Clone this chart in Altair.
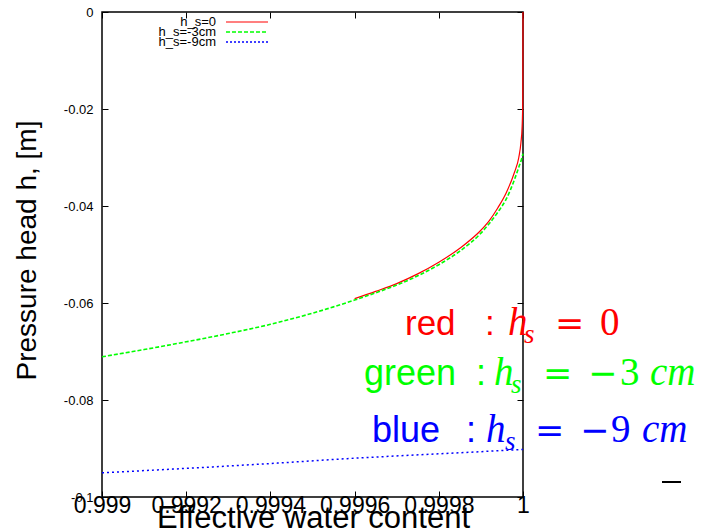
import altair as alt
import pandas as pd

# ---------------- data ----------------
x_ticks = [0.999, 0.9992, 0.9994, 0.9996, 0.9998, 1.0]
y_ticks = [0, -0.02, -0.04, -0.06, -0.08, -0.1]

series_names = ["h_s=0", "h_s=-3cm", "h_s=-9cm"]

red_x = [0.9996, 0.99965, 0.9997, 0.99975, 0.9998, 0.99985, 0.9999, 0.99992,
         0.99994, 0.99996, 0.99998, 0.99999, 0.999995, 0.999998, 0.9999995, 1.0]
red_y = [-0.0591, -0.0576, -0.0560, -0.0540, -0.0516, -0.0487, -0.0450, -0.0430,
         -0.0404, -0.0373, -0.0330, -0.0300, -0.0270, -0.0235, -0.0180, 0.0]

green_x = [0.999, 0.9991, 0.9992, 0.9993, 0.9994, 0.9995, 0.99955, 0.9996,
           0.99965, 0.9997, 0.99975, 0.9998, 0.99985, 0.9999, 0.99992, 0.99994,
           0.99996, 0.99998, 0.99999, 0.999997, 1.0]
green_y = [-0.0711, -0.0696, -0.0680, -0.0663, -0.0644, -0.0621, -0.0608, -0.0594,
           -0.0579, -0.0563, -0.0544, -0.0521, -0.0493, -0.0456, -0.0436, -0.0413,
           -0.0386, -0.0345, -0.0320, -0.0302, -0.0292]

blue_x = [0.999, 0.9992, 0.9994, 0.9996, 0.9998, 1.0]
blue_y = [-0.0950, -0.0941, -0.0931, -0.0920, -0.0911, -0.0902]

# ---------------- layout ----------------
W, H = 421, 485
PL, PT = 102, 12
RED, GREEN, BLUE = "#ff0000", "#00ff00", "#0000ff"
SANS, SERIF, DSERIF = "Liberation Sans", "Liberation Serif", "DejaVu Serif"

xscale = alt.Scale(domain=[0.999, 1.0], nice=False, zero=False)
yscale = alt.Scale(domain=[-0.1, 0.0], nice=False, zero=False)

tick_common = dict(offset=-6, tickSize=6, domain=False, grid=False,
                   tickColor="#000", tickWidth=1)

x_bottom = alt.Axis(orient="bottom", values=x_ticks, labelExpr="toString(datum.value)",
                    labelFont=SANS, labelFontSize=23, labelColor="#000", labelPadding=15,
                    labelBaseline="alphabetic", labelOverlap=False, labelFlush=False,
                    labelBound=False, titleFont=SANS, titleFontSize=31,
                    titleFontWeight="normal", titleColor="#000", titleX=211, titleY=36,
                    titleAlign="center", titleBaseline="alphabetic", **tick_common)
y_left = alt.Axis(orient="left", values=y_ticks, labelExpr="toString(datum.value)",
                  labelFont=SANS, labelFontSize=13, labelColor="#000", labelPadding=9,
                  labelBaseline="middle", labelOverlap=False, labelFlush=False,
                  labelBound=False, titleFont=SANS, titleFontSize=28,
                  titleFontWeight="normal", titleColor="#000", titleAngle=270,
                  titleX=-73, titleY=238, titleAlign="center",
                  titleBaseline="alphabetic", **tick_common)
x_top = alt.Axis(orient="top", values=x_ticks, labels=False, **tick_common)
y_right = alt.Axis(orient="right", values=y_ticks, labels=False, **tick_common)


def sdf(xs, ys):
    return pd.DataFrame({"theta": xs, "h": ys})


red = alt.Chart(sdf(red_x, red_y)).mark_line(
    color=RED, strokeWidth=1.2, interpolate="monotone").encode(
    x=alt.X("theta:Q", scale=xscale, axis=x_bottom, title="Effective water content"),
    y=alt.Y("h:Q", scale=yscale, axis=y_left, title="Pressure head h, [m]"),
)
green = alt.Chart(sdf(green_x, green_y)).mark_line(
    color=GREEN, strokeWidth=1.6, strokeDash=[4, 2], interpolate="monotone").encode(
    x=alt.X("theta:Q", scale=xscale, axis=x_top, title=None),
    y=alt.Y("h:Q", scale=yscale, axis=y_right, title=None),
)
blue = alt.Chart(sdf(blue_x, blue_y)).mark_line(
    color=BLUE, strokeWidth=1.5, strokeDash=[2, 3], interpolate="monotone").encode(
    x=alt.X("theta:Q", scale=xscale, axis=None),
    y=alt.Y("h:Q", scale=yscale, axis=None),
)

one = alt.Data(values=[{}])


def txt(text, ax, ay, font, size, color, style="normal", align="left", baseline="alphabetic"):
    return alt.Chart(one).mark_text(
        font=font, fontSize=size, fontStyle=style, color=color,
        align=align, baseline=baseline).encode(
        x=alt.value(ax - PL), y=alt.value(ay - PT), text=alt.value(text))


def rule(x1, x2, y, color, width, dash):
    return alt.Chart(one).mark_rule(color=color, strokeWidth=width, strokeDash=dash).encode(
        x=alt.value(x1 - PL), x2=alt.value(x2 - PL), y=alt.value(y - PT))


# legend (gnuplot style: label left, sample right)
legend_layers = []
for i, (name, col, dash, sw) in enumerate(zip(series_names, [RED, GREEN, BLUE],
                                              [[1, 0], [4, 2], [2, 2]], [1.2, 1.6, 1.5])):
    yy = 22 + 10 * i
    legend_layers.append(txt(name, 216, yy, SANS, 13, "#000", align="right", baseline="middle"))
    legend_layers.append(rule(226, 268, yy, col, sw, dash))

# annotations
ann = [
    ("red", 405, 335, SANS, 35, RED, "normal"),
    (":", 485, 335, SANS, 35, RED, "normal"),
    ("h", 508, 335, SERIF, 39, RED, "italic"),
    ("s", 524, 343, SERIF, 27, RED, "italic"),
    ("=", 555, 335, DSERIF, 35, RED, "normal"),
    ("0", 600, 335, SERIF, 39, RED, "normal"),
    ("green", 364, 385, SANS, 36, GREEN, "normal"),
    (":", 476, 385, SANS, 36, GREEN, "normal"),
    ("h", 494, 385, SERIF, 39, GREEN, "italic"),
    ("s", 511, 393, SERIF, 27, GREEN, "italic"),
    ("=", 543, 385, DSERIF, 35, GREEN, "normal"),
    ("\u2212", 588, 385, DSERIF, 35, GREEN, "normal"),
    ("3", 620, 385, SERIF, 39, GREEN, "normal"),
    ("cm", 650, 385, SERIF, 39, GREEN, "italic"),
    ("blue", 372, 442, SANS, 36, BLUE, "normal"),
    (":", 466, 442, SANS, 36, BLUE, "normal"),
    ("h", 486, 442, SERIF, 39, BLUE, "italic"),
    ("s", 505, 450, SERIF, 27, BLUE, "italic"),
    ("=", 535, 442, DSERIF, 35, BLUE, "normal"),
    ("\u2212", 580, 442, DSERIF, 35, BLUE, "normal"),
    ("9", 611, 442, SERIF, 39, BLUE, "normal"),
    ("cm", 642, 442, SERIF, 39, BLUE, "italic"),
]
ann_layers = [txt(t, x, y, f, s, c, style=st) for (t, x, y, f, s, c, st) in ann]

stray = rule(662, 681, 482, "#000", 2, [1, 0])

chart = alt.layer(red, green, blue, *legend_layers, *ann_layers, stray).resolve_axis(
    x="independent", y="independent"
).properties(
    width=W, height=H,
    padding={"left": PL, "top": PT, "right": 708 - PL - W, "bottom": 531 - PT - H},
    autosize=alt.AutoSizeParams(type="none"),
    background="white",
).configure_view(stroke="#000", strokeWidth=1.5)

chart.save("out.html", embed_options={"renderer": "svg", "actions": False})
